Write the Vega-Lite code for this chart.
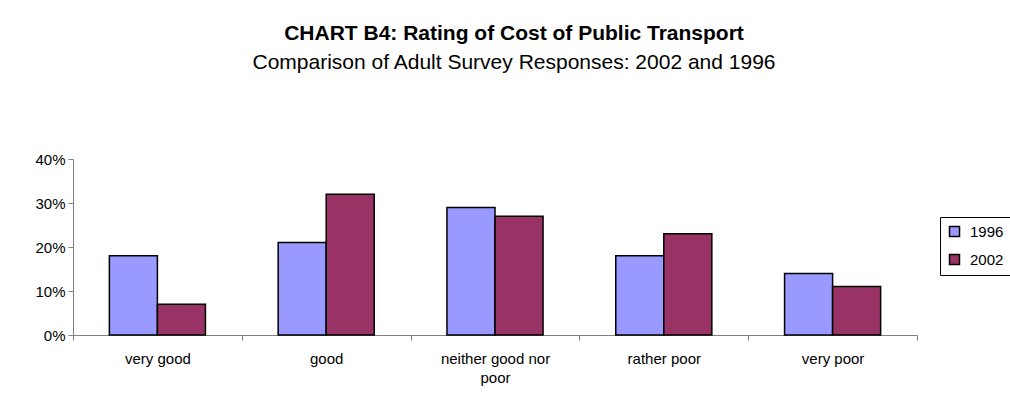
{
  "$schema": "https://vega.github.io/schema/vega-lite/v6.json",
  "autosize": {"type": "none"},
  "width": 844,
  "height": 176,
  "padding": {"left": 73, "top": 159, "right": 93, "bottom": 83},
  "background": "white",
  "title": {
    "text": "CHART B4: Rating of Cost of Public Transport",
    "subtitle": "Comparison of Adult Survey Responses: 2002 and 1996",
    "anchor": "middle",
    "dx": 19,
    "offset": 79,
    "font": "Liberation Sans",
    "fontSize": 21,
    "fontWeight": "bold",
    "color": "black",
    "subtitleFont": "Liberation Sans",
    "subtitleFontSize": 21,
    "subtitleColor": "black",
    "subtitlePadding": 8
  },
  "data": {
    "values": [
      {"rating": "very good", "year": "1996", "share": 0.18},
      {"rating": "very good", "year": "2002", "share": 0.07},
      {"rating": "good", "year": "1996", "share": 0.21},
      {"rating": "good", "year": "2002", "share": 0.32},
      {"rating": "neither good nor poor", "year": "1996", "share": 0.29},
      {"rating": "neither good nor poor", "year": "2002", "share": 0.27},
      {"rating": "rather poor", "year": "1996", "share": 0.18},
      {"rating": "rather poor", "year": "2002", "share": 0.23},
      {"rating": "very poor", "year": "1996", "share": 0.14},
      {"rating": "very poor", "year": "2002", "share": 0.11}
    ]
  },
  "mark": {"type": "bar", "stroke": "black", "strokeWidth": 1.5},
  "encoding": {
    "x": {
      "field": "rating",
      "type": "nominal",
      "sort": ["very good", "good", "neither good nor poor", "rather poor", "very poor"],
      "scale": {"paddingInner": 0, "paddingOuter": 0},
      "axis": {
        "title": null,
        "labelAngle": 0,
        "tickBand": "extent",
        "labelExpr": "datum.label == 'neither good nor poor' ? ['neither good nor', 'poor'] : datum.label",
        "labelFont": "Liberation Sans",
        "labelFontSize": 15,
        "labelColor": "black",
        "labelPadding": 11,
        "labelLineHeight": 19,
        "domainColor": "#808080",
        "tickColor": "#808080",
        "tickSize": 5,
        "grid": false
      }
    },
    "xOffset": {
      "field": "year",
      "type": "nominal",
      "scale": {"paddingInner": 0, "paddingOuter": 0.757}
    },
    "y": {
      "field": "share",
      "type": "quantitative",
      "scale": {"domain": [0, 0.4], "nice": false},
      "axis": {
        "title": null,
        "values": [0, 0.1, 0.2, 0.3, 0.4],
        "format": ".0%",
        "labelFont": "Liberation Sans",
        "labelFontSize": 15,
        "labelColor": "black",
        "labelPadding": 3,
        "domainColor": "#808080",
        "tickColor": "#808080",
        "tickSize": 5,
        "grid": false
      }
    },
    "color": {
      "field": "year",
      "type": "nominal",
      "scale": {"domain": ["1996", "2002"], "range": ["#9999FF", "#993366"]},
      "legend": {
        "title": null,
        "orient": "none",
        "legendX": 867,
        "legendY": 58,
        "symbolType": "square",
        "symbolSize": 100,
        "symbolStrokeColor": "black",
        "symbolStrokeWidth": 1.5,
        "symbolOpacity": 1,
        "labelFont": "Liberation Sans",
        "labelFontSize": 15,
        "labelColor": "black",
        "labelOffset": 8,
        "rowPadding": 11,
        "padding": 7,
        "strokeColor": "black",
        "fillColor": "white"
      }
    }
  },
  "config": {
    "view": {"stroke": null}
  }
}
